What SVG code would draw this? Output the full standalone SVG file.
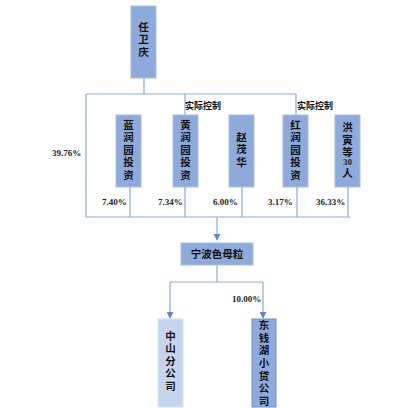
<svg xmlns="http://www.w3.org/2000/svg" width="411" height="408" viewBox="0 0 411 408">
<defs>
<style>
.box{fill:#8eaadb;stroke:#a9bfe6;stroke-width:1}
.light{fill:#c6d5ee;stroke:#d6e1f3;stroke-width:1}
.dark{fill:#8eaadb;stroke:#6f8fcc;stroke-width:1}
.ln{stroke:#8eaadb;stroke-width:1.2;fill:none}
.t{font-family:"Noto Sans CJK SC","Noto Sans",sans-serif;font-weight:bold;font-size:10.5px;fill:#111;text-anchor:middle}
.v{font-family:"Noto Sans CJK SC","Noto Sans",sans-serif;font-weight:bold;font-size:10.5px;fill:#111;writing-mode:vertical-rl;text-anchor:start;letter-spacing:2px}
.ctl{font-family:"Noto Sans CJK SC",sans-serif;font-weight:bold;font-size:9px;fill:#111}
.pct{font-family:"Liberation Serif",serif;font-weight:bold;font-size:9px;fill:#222}
</style>
<marker id="arr" viewBox="0 0 10 10" refX="9" refY="5" markerWidth="7" markerHeight="7" orient="auto" markerUnits="userSpaceOnUse">
<path d="M0,0 L10,5 L0,10 z" fill="#5b87d3"/>
</marker>
</defs>
<rect width="411" height="408" fill="#ffffff"/>
<g id="connectors">
<path class="ln" d="M144,78 V94 M86,94 H296 M185,94 V115 M296,94 V115 M86,94 V217 M86,217 H350 M130,187 V217 M185,187 V217 M242,187 V217 M297,187 V217 M348,187 V217"/>
<path class="ln" d="M217,217 V240" stroke="#6f94d6" marker-end="url(#arr)"/>
<path class="ln" d="M217,265 V282 M170,282 H263"/>
<path class="ln" d="M170,282 V318" marker-end="url(#arr)"/>
<path class="ln" d="M263,282 V318" marker-end="url(#arr)"/>
<text class="ctl" x="185" y="109">实际控制</text>
<text class="ctl" x="297" y="109">实际控制</text>
<text class="pct" x="52" y="156">39.76%</text>
<text class="pct" x="102" y="205">7.40%</text>
<text class="pct" x="158" y="205">7.34%</text>
<text class="pct" x="213" y="205">6.00%</text>
<text class="pct" x="268" y="205">3.17%</text>
<text class="pct" x="316" y="205">36.33%</text>
<text class="pct" x="232" y="302">10.00%</text>
</g>
<g id="n-renweiqing">
<rect class="box" x="131" y="6" width="25" height="72"/>
<text class="v" font-size="11" x="143.5" y="21.5">任卫庆</text>
</g>
<g id="n-lanrunyuan">
<rect class="box" x="116" y="115" width="25" height="72"/>
<text class="v" x="128.5" y="119.75">蓝润园投资</text>
</g>
<g id="n-huangrunyuan">
<rect class="box" x="173" y="115" width="25" height="72"/>
<text class="v" x="185.5" y="119.75">黄润园投资</text>
</g>
<g id="n-zhaomaohua">
<rect class="box" x="229" y="115" width="25" height="72"/>
<text class="v" font-size="11" x="241.5" y="131.5">赵茂华</text>
</g>
<g id="n-hongrunyuan">
<rect class="box" x="283" y="115" width="25" height="72"/>
<text class="v" x="295.5" y="119.75">红润园投资</text>
</g>
<g id="n-hongyin">
<rect class="box" x="335" y="115" width="25" height="72"/>
<text class="v" font-size="9.6" style="letter-spacing:1.9px" x="347.5" y="122.2">洪寅等</text>
<text class="pct" font-size="9.6" text-anchor="middle" x="347.5" y="165">30</text>
<text class="v" font-size="9.6" x="347.5" y="168.2">人</text>
</g>
<g id="n-ningbo">
<rect class="box" x="181" y="243" width="72" height="22"/>
<text class="t" font-size="11" x="217" y="258">宁波色母粒</text>
</g>
<g id="n-zhongshan">
<rect class="light" x="158" y="319" width="25" height="88"/>
<text class="v" font-size="11" x="170.5" y="330.5">中山分公司</text>
</g>
<g id="n-dongqianhu">
<rect class="dark" x="252" y="319" width="24" height="88"/>
<text class="v" style="letter-spacing:2.17px" x="264" y="319.75">东钱湖小贷公司</text>
</g>
</svg>
